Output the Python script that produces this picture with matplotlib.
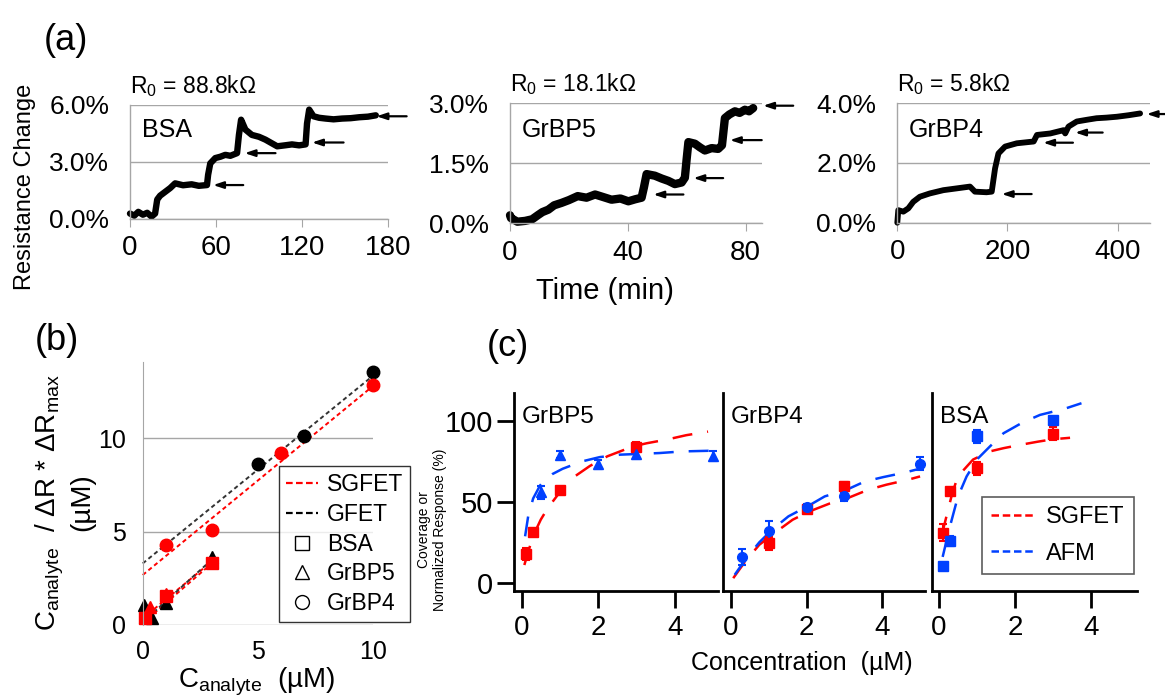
import matplotlib
matplotlib.use('Agg')
import matplotlib.pyplot as plt
from matplotlib.lines import Line2D

plt.rcParams['font.family'] = ['Liberation Sans', 'DejaVu Sans']
plt.rcParams['mathtext.fontset'] = 'custom'
plt.rcParams['mathtext.rm'] = 'Liberation Sans'
plt.rcParams['mathtext.it'] = 'Liberation Sans:italic'
plt.rcParams['mathtext.bf'] = 'Liberation Sans:bold'

# ---------------- data: panel (a) ----------------
bsa_t = [0, 3, 5.8, 9, 12, 15, 17.5, 19, 21, 24.5, 28, 31.5, 37, 43, 48, 53.7, 54.5, 56, 59.5, 63, 66.5,
         70, 74.7, 76, 77.5, 80.5, 85, 90, 94.5, 98, 102.7, 108, 113, 118, 122.5, 123.5, 125, 128, 132,
         136.5, 142, 148, 154, 160, 166, 171.5]
bsa_v = [0.26, 0.15, 0.35, 0.2, 0.3, 0.1, 0.26, 1.0, 1.2, 1.4, 1.6, 1.85, 1.75, 1.8, 1.72, 1.76, 2.3, 2.9,
         3.18, 3.25, 3.35, 3.3, 3.44, 4.4, 5.2, 4.68, 4.4, 4.3, 4.15, 4.0, 3.8, 3.85, 3.9, 3.85, 3.9, 5.0,
         5.73, 5.38, 5.3, 5.26, 5.22, 5.26, 5.28, 5.33, 5.36, 5.43]
bsa_arrow_head = [58, 80, 127, 172]
bsa_arrow_tail = [79, 101.5, 149, 193]
bsa_arrow_v = [1.76, 3.44, 4.0, 5.38]

p5_t = [0, 0.34, 2.5, 5.1, 7.5, 9.6, 11, 13, 15, 17.5, 20, 23, 26, 28.9, 31.5, 34.5, 37.5, 40.2, 42.5,
        44.7, 45.5, 46.4, 49.2, 51.5, 53.8, 56, 58.3, 59.4, 60, 60.6, 62.8, 64.5, 66.2, 68.5, 70.7, 72,
        73, 74.5, 76.4, 78, 79.8, 81.2, 82.6]
p5_v = [0.2, 0.13, 0.04, 0.06, 0.1, 0.21, 0.28, 0.34, 0.45, 0.51, 0.58, 0.68, 0.64, 0.72, 0.66, 0.59,
        0.62, 0.55, 0.6, 0.64, 0.9, 1.23, 1.19, 1.12, 1.06, 0.98, 1.02, 1.14, 1.6, 2.03, 1.99, 1.9, 1.82,
        1.88, 1.86, 1.95, 2.63, 2.72, 2.80, 2.76, 2.84, 2.8, 2.88]
p5_arrow_head = [48.7, 62.3, 74.7, 86]
p5_arrow_tail = [58.9, 72.4, 85.5, 96.2]
p5_arrow_v = [0.72, 1.13, 2.08, 2.94]

p4_t = [0, 1.8, 11, 20, 29, 41, 59, 83.7, 108, 132, 141, 162, 171.5, 177.6, 183.7, 195.8, 217,
        247.7, 253.7, 278, 302, 305, 311, 326, 345, 362, 380, 399, 420, 441]
p4_v = [0, 0.42, 0.37, 0.48, 0.70, 0.87, 0.98, 1.09, 1.15, 1.21, 1.04, 1.02, 1.04, 1.82, 2.32, 2.55, 2.66,
        2.72, 2.94, 2.99, 3.1, 2.99, 3.22, 3.39, 3.45, 3.5, 3.52, 3.55, 3.6, 3.66]
p4_arrow_head = [189.7, 265, 323, 453]
p4_arrow_tail = [244, 319, 373, 500]
p4_arrow_v = [0.96, 2.68, 3.02, 3.64]

a_names = ['BSA', 'GrBP5', 'GrBP4']
a_r0 = ['88.8', '18.1', '5.8']
a_xticks = [[0, 60, 120, 180], [0, 40, 80], [0, 200, 400]]
a_yticks = [[0, 3, 6], [0, 1.5, 3], [0, 2, 4]]
a_yticklabels = [['0.0%', '3.0%', '6.0%'], ['0.0%', '1.5%', '3.0%'], ['0.0%', '2.0%', '4.0%']]

# ---------------- data: panel (b) ----------------
b_sg_bsa_x = [0.1, 1.0, 3.0]
b_sg_bsa_y = [0.36, 1.55, 3.3]
b_sg_p5_x = [0.1, 0.3, 1.0]
b_sg_p5_y = [0.45, 0.95, 1.65]
b_sg_p4_x = [1.0, 3.0, 6.0, 10.0]
b_sg_p4_y = [4.27, 5.07, 9.23, 12.86]
b_g_p5_x = [0.05, 0.3, 0.4, 1.0, 3.0]
b_g_p5_y = [1.07, 0.45, 0.4, 1.2, 3.66]
b_g_p4_x = [5.0, 7.0, 10.0]
b_g_p4_y = [8.63, 10.13, 13.57]
# fit lines (endpoints)
b_fit_sg_p4_x = [0, 10]
b_fit_sg_p4_y = [2.68, 12.8]
b_fit_g_p4_x = [0, 10]
b_fit_g_p4_y = [3.3, 13.35]
b_fit_sg_bsa_x = [0, 3]
b_fit_sg_bsa_y = [0.1, 3.3]
b_fit_sg_p5_x = [0, 3]
b_fit_sg_p5_y = [0.35, 3.4]
b_fit_g_p5_x = [0, 3]
b_fit_g_p5_y = [0.15, 3.5]

# ---------------- data: panel (c) ----------------
c_names = ['GrBP5', 'GrBP4', 'BSA']
c_sg_x = [[0.11, 0.3, 1.0, 3.0], [1.0, 2.0, 3.0], [0.1, 0.3, 1.0, 3.0]]
c_sg_y = [[17.8, 31.4, 57, 84], [24.5, 45.3, 60], [31, 56.5, 70.6, 92]]
c_sg_err = [[4, 2, 2, 3], [4, 2, 2], [5, 2, 4, 4]]
c_afm_x = [[0.5, 1.0, 2.0, 3.0, 5.0], [0.28, 1.0, 2.0, 3.0, 5.0], [0.1, 0.3, 1.0, 3.0]]
c_afm_y = [[55.7, 79, 73, 79.5, 78.3], [15.8, 32, 46.5, 53.3, 73.5], [10.3, 25.7, 90.5, 100.4]]
c_afm_err = [[4, 2, 3, 3, 3], [5, 6, 2, 3, 4], [1, 3, 4, 2]]
c_sg_marker = ['s', 's', 's']
c_afm_marker = ['^', 'o', 's']
c_sg_fit_x = [[0.07, 0.17, 0.3, 0.5, 0.68, 1.0, 1.35, 1.78, 2.24, 2.9, 3.26, 3.83, 4.3, 4.87],
              [0.06, 0.37, 0.75, 1.15, 1.63, 2.07, 2.62, 3.06, 3.63, 4.11, 4.69, 5.0],
              [0.07, 0.2, 0.35, 0.5, 0.9, 1.34, 1.7, 2.13, 2.6, 3.0, 3.45]]
c_sg_fit_y = [[11, 19, 29, 39, 46, 56, 65, 72, 78, 84, 86, 88.5, 91, 93.2],
              [2.9, 13, 23.5, 30.7, 38.9, 44, 49, 52, 57.4, 60.5, 63.6, 65.6],
              [28.8, 41, 55, 65.6, 76, 81, 83, 85, 87, 88.5, 89.4]]
c_afm_fit_x = [[0.09, 0.17, 0.3, 0.48, 0.61, 0.8, 1.07, 1.57, 2.04, 2.57, 3.1, 3.6, 4.2, 4.9],
               [0.1, 0.4, 0.75, 1.1, 1.52, 2.05, 2.48, 3.06, 3.54, 4.03, 4.6, 5.0],
               [0.1, 0.29, 0.5, 0.73, 1.0, 1.34, 1.7, 2.2, 2.66, 3.0, 3.27, 3.75]]
c_afm_fit_y = [[28.7, 41, 52, 60, 63.5, 67, 70.3, 74.8, 77.5, 79, 79.5, 80, 81, 81.4],
               [5, 15, 25, 33, 41, 47.5, 53.3, 57.4, 62.5, 65.2, 68, 70.4],
               [16, 34.6, 53, 65.6, 76, 84, 92.2, 98.8, 103.5, 105.5, 107, 110.7]]
c_xticks = [0, 2, 4]
c_yticks = [0, 50, 100]

RED = '#ff0000'
BLUE = '#0040ff'
GRAY = '#a6a6a6'

W, H = 1165, 698
fig = plt.figure(figsize=(W / 100, H / 100), dpi=100)


def ax_px(x0, x1, y_top, y_bot):
    return fig.add_axes([x0 / W, 1 - y_bot / H, (x1 - x0) / W, (y_bot - y_top) / H])


# ---------------- panel (a) ----------------
a_boxes = [(130, 388, 104.5, 218.5), (510, 762, 103.3, 223.3), (897.3, 1150, 103.3, 222.7)]
a_xlims = [(0, 180), (0, 85.6), (0, 459)]
a_ylims = [(0, 6), (0, 3), (0, 4)]
a_lw = [4.6, 6.0, 4.2]
traces = [(bsa_t, bsa_v), (p5_t, p5_v), (p4_t, p4_v)]
arrows = [(bsa_arrow_head, bsa_arrow_tail, bsa_arrow_v),
          (p5_arrow_head, p5_arrow_tail, p5_arrow_v),
          (p4_arrow_head, p4_arrow_tail, p4_arrow_v)]
for i in range(3):
    ax = ax_px(*a_boxes[i])
    ax.set_xlim(*a_xlims[i])
    ax.set_ylim(*a_ylims[i])
    for s in ['top', 'right']:
        ax.spines[s].set_visible(False)
    for s in ['left', 'bottom']:
        ax.spines[s].set_color(GRAY)
        ax.spines[s].set_linewidth(1)
    ax.set_yticks(a_yticks[i])
    ax.set_yticklabels(a_yticklabels[i])
    ax.set_xticks(a_xticks[i])
    ax.tick_params(axis='y', length=0, pad=15, labelsize=19)
    ax.tick_params(axis='x', length=6, color=GRAY, direction='out', pad=6, labelsize=20)
    ax.yaxis.grid(True, color=GRAY, lw=1)
    ax.set_axisbelow(True)
    t, v = traces[i]
    ax.plot(t, v, color='black', lw=a_lw[i], solid_joinstyle='round', solid_capstyle='round', clip_on=False)
    heads, tails, vs = arrows[i]
    for h, tl, vv in zip(heads, tails, vs):
        ax.annotate('', xy=(h, vv), xytext=(tl, vv), annotation_clip=False,
                    arrowprops=dict(arrowstyle='-|>,head_length=0.6,head_width=0.2', color='black',
                                    lw=1.6, shrinkA=0, shrinkB=0))
    ax.text(0.0, 1.05, r'R$_0$ = ' + a_r0[i] + 'k\u03a9', transform=ax.transAxes, fontsize=16.5,
            ha='left', va='bottom')
    ax.text(0.045, 0.78, a_names[i], transform=ax.transAxes, fontsize=18, ha='left', va='center')

fig.text(25 / W, 1 - 187 / H, 'Resistance Change', rotation=90, fontsize=17, ha='center', va='center')
fig.text(605 / W, 1 - 291 / H, 'Time (min)', fontsize=21, ha='center', va='center')
fig.text(66 / W, 1 - 40 / H, '(a)', fontsize=26, ha='center', va='center')

# ---------------- panel (b) ----------------
axb = ax_px(142.7, 372.7, 362, 625)
axb.set_xlim(0, 10)
axb.set_ylim(0, 14.1)
for s in ['top', 'right', 'bottom']:
    axb.spines[s].set_visible(False)
axb.spines['left'].set_color(GRAY)
axb.set_yticks([0, 5, 10])
axb.set_xticks([0, 5, 10])
axb.tick_params(axis='y', length=0, labelsize=18, pad=12)
axb.tick_params(axis='x', length=0, labelsize=18, pad=11)
axb.yaxis.grid(True, color=GRAY, lw=1)
axb.set_axisbelow(True)
dash_b = (2.2, 1.6)
for fx, fy, col in [(b_fit_sg_p4_x, b_fit_sg_p4_y, RED), (b_fit_g_p4_x, b_fit_g_p4_y, '#333333'),
                    (b_fit_sg_bsa_x, b_fit_sg_bsa_y, RED), (b_fit_sg_p5_x, b_fit_sg_p5_y, RED),
                    (b_fit_g_p5_x, b_fit_g_p5_y, '#333333')]:
    axb.plot(fx, fy, ls=(0, dash_b), color=col, lw=1.4, clip_on=False)
ms_b = 9
axb.plot(b_g_p5_x, b_g_p5_y, '^', color='black', ms=ms_b, ls='none', clip_on=False)
axb.plot(b_g_p4_x, b_g_p4_y, 'o', color='black', ms=ms_b, ls='none', clip_on=False)
axb.plot(b_sg_p5_x, b_sg_p5_y, '^', color=RED, ms=ms_b, ls='none', clip_on=False)
axb.plot(b_sg_bsa_x, b_sg_bsa_y, 's', color=RED, ms=ms_b - 1, ls='none', clip_on=False)
axb.plot(b_sg_p4_x, b_sg_p4_y, 'o', color=RED, ms=ms_b, ls='none', clip_on=False)

hb = [Line2D([], [], color=RED, ls=(0, (3, 1.5)), lw=1.6),
      Line2D([], [], color='black', ls=(0, (3, 1.5)), lw=1.6),
      Line2D([], [], marker='s', mfc='white', mec='black', ls='none', ms=10),
      Line2D([], [], marker='^', mfc='white', mec='black', ls='none', ms=10),
      Line2D([], [], marker='o', mfc='white', mec='black', ls='none', ms=10)]
lb = fig.legend(hb, ['SGFET', 'GFET', 'BSA', 'GrBP5', 'GrBP4'], loc='upper left',
                bbox_to_anchor=(279 / W, 1 - 466 / H), fontsize=16.5, frameon=True, fancybox=False,
                edgecolor='black', handlelength=1.4, handletextpad=0.4, labelspacing=0.3,
                borderpad=0.3, borderaxespad=0)
lb.get_frame().set_linewidth(1.0)

fig.text(50 / W, 1 - 503 / H, r'C$_{\mathregular{analyte}}$  / $\Delta$R * $\Delta$R$_{\mathregular{max}}$',
         rotation=90, fontsize=20, ha='center', va='center')
fig.text(82 / W, 1 - 502 / H, '(\u00b5M)', rotation=90, fontsize=20, ha='center', va='center')
fig.text(257 / W, 1 - 682 / H, r'C$_{\mathregular{analyte}}$' + '  (\u00b5M)', fontsize=20,
         ha='center', va='center')
fig.text(57 / W, 1 - 341 / H, '(b)', fontsize=26, ha='center', va='center')

# ---------------- panel (c) ----------------
c_boxes = [(514, 718), (723, 925), (932, 1137)]
c_xlims = [(-0.2, 5.13), (-0.21, 5.13), (-0.18, 5.21)]
for i in range(3):
    ax = ax_px(c_boxes[i][0], c_boxes[i][1], 393, 591)
    ax.set_xlim(*c_xlims[i])
    ax.set_ylim(-5, 117)
    for s in ['top', 'right']:
        ax.spines[s].set_visible(False)
    for s in ['left', 'bottom']:
        ax.spines[s].set_linewidth(2)
    ax.set_xticks(c_xticks)
    ax.tick_params(axis='x', length=12, width=2, labelsize=20, pad=5)
    if i == 0:
        ax.set_yticks(c_yticks)
        ax.tick_params(axis='y', length=12, width=2, labelsize=21, pad=3)
    else:
        ax.set_yticks([])
    ax.plot(c_sg_fit_x[i], c_sg_fit_y[i], color=RED, lw=1.8, ls=(0, (8, 6)), clip_on=False)
    ax.plot(c_afm_fit_x[i], c_afm_fit_y[i], color=BLUE, lw=1.8, ls=(0, (8, 6)), clip_on=False)
    ax.errorbar(c_sg_x[i], c_sg_y[i], yerr=c_sg_err[i], fmt=c_sg_marker[i], color=RED, ms=7,
                capsize=3, elinewidth=1.5, capthick=1.5, clip_on=False)
    ax.errorbar(c_afm_x[i], c_afm_y[i], yerr=c_afm_err[i], fmt=c_afm_marker[i], color=BLUE, ms=7,
                capsize=3, elinewidth=1.5, capthick=1.5, clip_on=False)
    ax.text(0.04, 0.88, c_names[i], transform=ax.transAxes, fontsize=17.5, ha='left', va='center')

hc = [Line2D([], [], color=RED, ls=(0, (3, 1.5)), lw=1.8),
      Line2D([], [], color=BLUE, ls=(0, (3, 1.5)), lw=1.8)]
lc = fig.legend(hc, ['SGFET', 'AFM'], loc='upper left', bbox_to_anchor=(982 / W, 1 - 497 / H),
                fontsize=17, frameon=True, fancybox=False, edgecolor='#333333', handlelength=1.8,
                handletextpad=0.5, labelspacing=0.6, borderpad=0.4, borderaxespad=0)
lc.get_frame().set_linewidth(1.2)

fig.text(432 / W, 1 - 530 / H, 'Coverage or\nNormalized Response (%)', rotation=90, fontsize=10,
         ha='center', va='center', linespacing=1.1)
fig.text(802 / W, 1 - 663 / H, 'Concentration  (\u00b5M)', fontsize=18, ha='center', va='center')
fig.text(508 / W, 1 - 347 / H, '(c)', fontsize=26, ha='center', va='center')

fig.savefig('out.png', dpi=100)
